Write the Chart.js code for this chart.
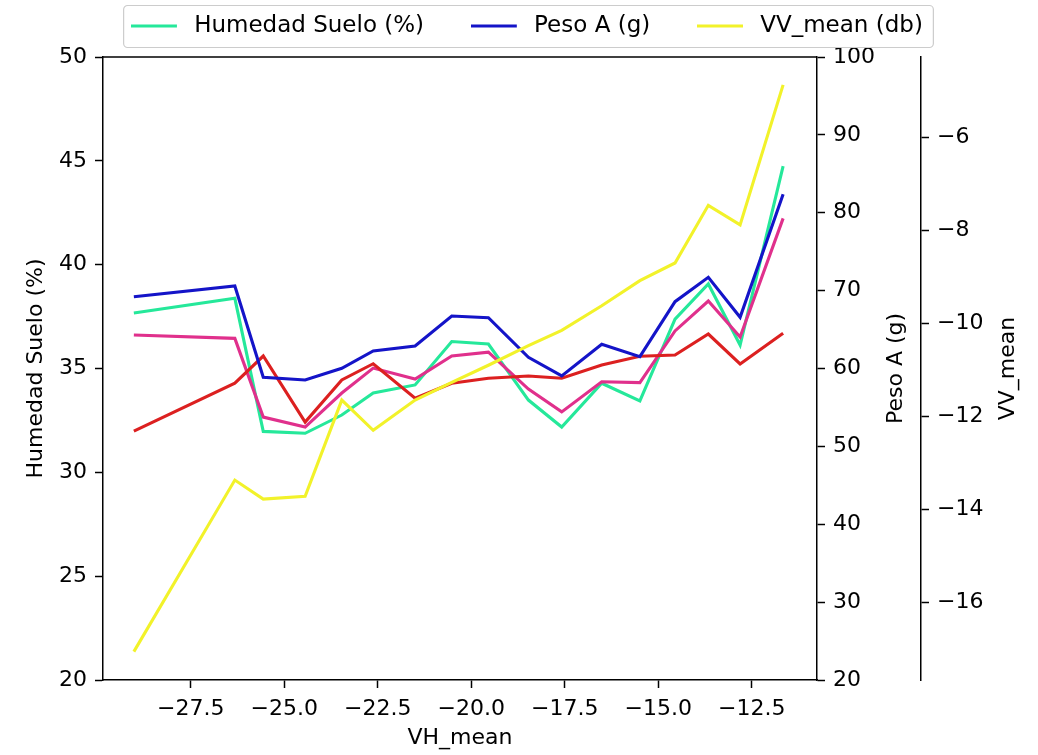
<!DOCTYPE html>
<html>
<head>
<meta charset="utf-8">
<script src="https://cdn.jsdelivr.net/npm/chart.js@4.4.1/dist/chart.umd.min.js"></script>
<style>
html,body{margin:0;padding:0;background:#ffffff;}
#wrap{width:1038px;height:755px;position:relative;}
canvas{display:block;background:#ffffff;}
</style>
</head>
<body>
<div id="wrap"><canvas id="c" width="1038" height="755"></canvas></div>
<script>
// ---------------- data ----------------
const vhMean       = [-29.02,-26.32,-25.56,-24.44,-23.46,-22.62,-21.50,-20.52,-19.54,-18.47,-17.58,-16.51,-15.49,-14.55,-13.66,-12.81,-11.66];
const humedadSuelo = [37.67,38.38,31.97,31.88,32.76,33.82,34.21,36.30,36.18,33.48,32.18,34.29,33.44,37.38,39.07,36.13,44.75];
const pesoA        = [69.22,70.59,58.87,58.52,60.03,62.25,62.89,66.74,66.52,61.44,59.04,63.11,61.52,68.58,71.71,66.57,82.37];
const vvMean       = [-17.06,-13.37,-13.78,-13.72,-11.65,-12.30,-11.65,-11.27,-10.90,-10.48,-10.15,-9.62,-9.08,-8.70,-7.46,-7.88,-4.87];
const serieRosa    = [36.61,36.45,32.66,32.18,33.82,35.02,34.49,35.60,35.79,34.01,32.91,34.36,34.32,36.81,38.25,36.52,42.23];
const serieRoja    = [31.98,34.29,35.60,32.42,34.45,35.23,33.57,34.29,34.53,34.64,34.53,35.17,35.59,35.65,36.66,35.22,36.70];

const seriesLabels = ['Humedad Suelo (%)','Peso A (g)','VV_mean (db)'];
const xTitle = 'VH_mean';
const yHumTitle = 'Humedad Suelo (%)';
const yPesoTitle = 'Peso A (g)';
const yVVTitle = 'VV_mean';

const xTicks        = [-27.5,-25,-22.5,-20,-17.5,-15,-12.5];
const xTickLabels   = ['\u221227.5','\u221225.0','\u221222.5','\u221220.0','\u221217.5','\u221215.0','\u221212.5'];
const yHumTicks     = [20,25,30,35,40,45,50];
const yHumTickLabels= ['20','25','30','35','40','45','50'];
const yPesoTicks    = [20,30,40,50,60,70,80,90,100];
const yPesoTickLabels=['20','30','40','50','60','70','80','90','100'];
const yVVTicks      = [-16,-14,-12,-10,-8,-6];
const yVVTickLabels = ['\u221216','\u221214','\u221212','\u221210','\u22128','\u22126'];

// ---------------- styling ----------------
const FONT = 22;
const LEG_FONT = 23;
const FAMILY = "'DejaVu Sans'";
const COLORS = {hum:'#25e89a', peso:'#1414c8', vv:'#f2f22a', rosa:'#e0308c', roja:'#dc2020'};
const LINE_W = 3.1;
const HANDLE_LEN = 46, HANDLE_BOX = 51.5, LEG_PAD = 47;

Chart.defaults.font.family = FAMILY;
Chart.defaults.font.size = FONT;
Chart.defaults.color = '#000';

function makeHandle(color){
  const c = document.createElement('canvas');
  c.width = Math.round(HANDLE_BOX); c.height = 6;
  const g = c.getContext('2d');
  g.strokeStyle = color; g.lineWidth = LINE_W;
  g.beginPath(); g.moveTo(0,3); g.lineTo(HANDLE_LEN,3); g.stroke();
  return c;
}
const handles = [makeHandle(COLORS.hum), makeHandle(COLORS.peso), makeHandle(COLORS.vv)];

const pts = arr => vhMean.map((x,i) => ({x:x, y:arr[i]}));
const lineDs = (label, arr, axis, color, order) => ({
  label:label, data:pts(arr), yAxisID:axis, borderColor:color, backgroundColor:color,
  borderWidth:LINE_W, pointRadius:0, pointHoverRadius:0, tension:0, fill:false, order:order
});

const axisCommon = (pos, labels) => ({
  position: pos,
  grid: {display:true, drawOnChartArea:false, drawTicks:true, tickLength:8, tickWidth:1.5, tickColor:'#000'},
  border: {display:true, color:'#000', width:1.5},
  ticks: {padding:8, color:'#000', font:{size:FONT, family:FAMILY}, autoSkip:false, maxRotation:0, minRotation:0,
          callback: (v, i) => labels[i]}
});

const fixes = {
  id:'fixes',
  afterInit(chart){
    const lg = chart.legend;
    const f = lg.fit.bind(lg);
    lg.fit = function(){ f(); this.height = 57; };
  },
  afterLayout(chart){
    const lg = chart.legend;
    lg.left = 16; lg.right = 1038;
    lg.top = 26 - LEG_FONT/2 - LEG_PAD;
  },
  afterDraw(chart){
    const ctx = chart.ctx, a = chart.chartArea, lg = chart.legend;
    ctx.save();
    // top spine
    ctx.strokeStyle = '#000'; ctx.lineWidth = 1.5;
    ctx.beginPath(); ctx.moveTo(a.left, a.top); ctx.lineTo(a.right, a.top); ctx.stroke();
    // legend frame
    ctx.font = LEG_FONT + 'px ' + FAMILY;
    let total = 0;
    lg.legendItems.forEach(it => { total += HANDLE_BOX + LEG_FONT/2 + ctx.measureText(it.text).width; });
    total += LEG_PAD * (lg.legendItems.length - 1);
    const x0 = (lg.left + lg.right - total) / 2;
    ctx.strokeStyle = '#cccccc'; ctx.lineWidth = 1.2;
    ctx.beginPath();
    ctx.roundRect(x0 - 7.5, 5.5, total + 18, 42, 4);
    ctx.stroke();
    // right axis titles (bottom-to-top reading)
    ctx.font = FONT + 'px ' + FAMILY;
    ctx.fillStyle = '#000'; ctx.textAlign = 'center'; ctx.textBaseline = 'middle';
    const midY = (a.top + a.bottom) / 2;
    const y1 = chart.scales.y1, y2 = chart.scales.y2;
    ctx.save(); ctx.translate(y1.right - 25, midY); ctx.rotate(-Math.PI/2); ctx.fillText(yPesoTitle, 0, 0); ctx.restore();
    ctx.save(); ctx.translate(y2.left + 87, midY); ctx.rotate(-Math.PI/2); ctx.fillText(yVVTitle, 0, 0); ctx.restore();
    ctx.restore();
  }
};

new Chart(document.getElementById('c'), {
  type:'line',
  data:{
    datasets:[
      lineDs(seriesLabels[0], humedadSuelo, 'y',  COLORS.hum, 4),
      lineDs(seriesLabels[1], pesoA,        'y1', COLORS.peso, 1),
      lineDs(seriesLabels[2], vvMean,       'y2', COLORS.vv, 0),
      lineDs('serie 4',       serieRosa,    'y',  COLORS.rosa, 3),
      lineDs('serie 5',       serieRoja,    'y',  COLORS.roja, 2)
    ]
  },
  options:{
    responsive:false, animation:false, devicePixelRatio:1,
    layout:{padding:0},
    plugins:{
      tooltip:{enabled:false},
      legend:{
        display:true, position:'top', align:'center',
        labels:{
          usePointStyle:true, pointStyleWidth:HANDLE_BOX, padding:LEG_PAD,
          font:{size:LEG_FONT, family:FAMILY}, color:'#000',
          generateLabels: chart => chart.data.datasets.slice(0,3).map((ds,i) => ({
            text: ds.label, pointStyle: handles[i], fillStyle: ds.borderColor,
            strokeStyle: ds.borderColor, lineWidth: 0, hidden:false, datasetIndex:i, fontColor:'#000'
          }))
        }
      }
    },
    scales:{
      x: Object.assign(axisCommon('bottom', xTickLabels), {
        type:'linear', min:-29.845, max:-10.754,
        afterBuildTicks: s => { s.ticks = xTicks.map(v => ({value:v})); },
        afterFit: s => { s.height = 75; },
        title:{display:true, text:xTitle, color:'#000', font:{size:FONT, family:FAMILY}, padding:{top:0, bottom:4}}
      }),
      y: Object.assign(axisCommon('left', yHumTickLabels), {
        type:'linear', min:20, max:50,
        afterBuildTicks: s => { s.ticks = yHumTicks.map(v => ({value:v})); },
        afterFit: s => { s.width = 103; },
        title:{display:true, text:yHumTitle, color:'#000', font:{size:FONT, family:FAMILY}, padding:{top:23, bottom:0}}
      }),
      y1: Object.assign(axisCommon('right', yPesoTickLabels), {
        type:'linear', min:20, max:100, weight:0,
        afterBuildTicks: s => { s.ticks = yPesoTicks.map(v => ({value:v})); },
        afterFit: s => { s.width = 104; }
      }),
      y2: Object.assign(axisCommon('right', yVVTickLabels), {
        type:'linear', min:-17.67, max:-4.27, weight:1,
        afterBuildTicks: s => { s.ticks = yVVTicks.map(v => ({value:v})); },
        afterFit: s => { s.width = 117; }
      })
    }
  },
  plugins:[fixes]
});
</script>
</body>
</html>
